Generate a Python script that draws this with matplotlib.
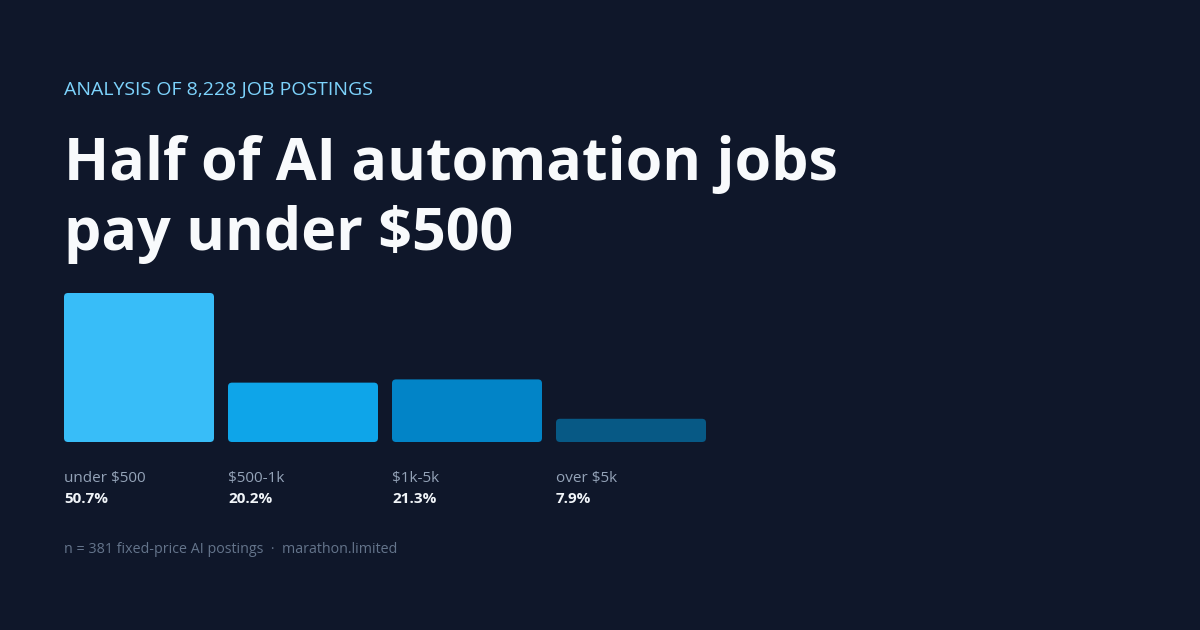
import matplotlib.pyplot as plt
import matplotlib.transforms as mtransforms
from matplotlib.patches import FancyBboxPatch

categories = ["under $500", "$500-1k", "$1k-5k", "over $5k"]
shares = [50.7, 20.2, 21.3, 7.9]
bar_colors = ["#38bdf8", "#0ea5e9", "#0284c7", "#075985"]

kicker = "ANALYSIS OF 8,228 JOB POSTINGS"
title_lines = ["Half of AI automation jobs", "pay under $500"]
footer = "n = 381 fixed-price AI postings  \u00b7  marathon.limited"

BG = "#0f172a"
W, H = 1200, 630

plt.rcParams['font.family'] = ['Open Sans', 'DejaVu Sans']

fig = plt.figure(figsize=(12, 6.3), dpi=100, facecolor=BG)
renderer = fig.canvas.get_renderer()


def fy(y):
    # pixel row from top -> figure fraction
    return 1 - y / H


fig.text(64 / W, fy(95), kicker, color="#7dd3fc", fontsize=14, va="baseline", ha="left")

# title: size it so the first line spans ~776px like the reference
t1 = fig.text(64 / W, fy(180), title_lines[0], color="#f8fafc", fontsize=36, fontweight="bold",
              va="baseline", ha="left")
w36 = t1.get_window_extent(renderer).width
tsize = 36 * 776 / w36
t1.set_fontsize(tsize)
fig.text(64 / W, fy(250), title_lines[1], color="#f8fafc", fontsize=tsize, fontweight="bold",
         va="baseline", ha="left")

# bar area: 4 slots of 164px, bars 150px wide, bottom at y=442, tallest bar reaches y=293
slot = 164
bar_w = 150 / slot
ax = fig.add_axes([(64 - 7) / W, 1 - 442 / H, 4 * slot / W, (442 - 293) / H])
ax.set_facecolor(BG)
ax.set_xlim(-0.5, 3.5)
ax.set_ylim(0, max(shares))
ax.axis("off")

bars = ax.bar(range(len(shares)), shares, width=bar_w, color=bar_colors)

# swap plain rectangles for rounded ones
px_x = slot
px_y = (442 - 293) / max(shares)
r = 4 / px_x
for rect, c in zip(bars, bar_colors):
    rounded = FancyBboxPatch((rect.get_x(), rect.get_y()), rect.get_width(), rect.get_height(),
                             boxstyle=f"round,pad=0,rounding_size={r}",
                             mutation_aspect=px_x / px_y, facecolor=c, edgecolor="none")
    rect.remove()
    ax.add_patch(rounded)

trans = mtransforms.blended_transform_factory(ax.transData, fig.transFigure)
for i, (cat, val) in enumerate(zip(categories, shares)):
    x0 = i - bar_w / 2
    ax.text(x0, fy(482), cat, transform=trans, color="#94a3b8", fontsize=11,
            va="baseline", ha="left", clip_on=False)
    ax.text(x0, fy(503), f"{val}%", transform=trans, color="#f1f5f9", fontsize=11,
            fontweight="bold", va="baseline", ha="left", clip_on=False)

fig.text(64 / W, fy(553), footer, color="#64748b", fontsize=10.3, va="baseline", ha="left")

fig.savefig("out.png", dpi=100, facecolor=BG)
